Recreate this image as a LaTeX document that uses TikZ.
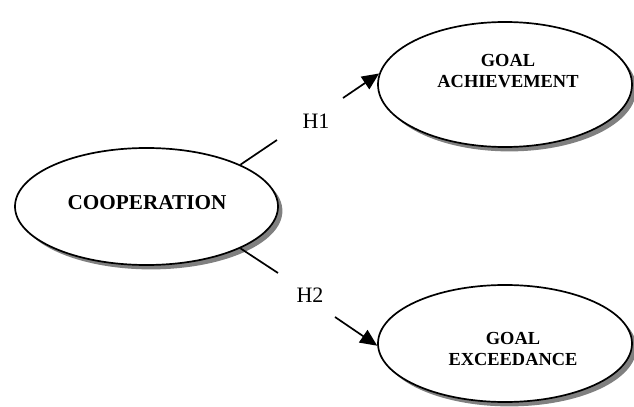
\documentclass[tikz,border=0pt]{standalone}
\usepackage{fontspec}
\setmainfont{Liberation Serif}
\usetikzlibrary{shadows,arrows.meta,shapes.geometric}
\begin{document}
\begin{tikzpicture}[x=0.5pt,y=-0.5pt,
  construct/.style={ellipse,draw=black,line width=0.85pt,fill=white,inner sep=0pt,
    drop shadow={shadow xshift=2.2pt,shadow yshift=-2.2pt,fill=black!50,opacity=1}},
  bigtxt/.style={font=\fontsize{10.6}{12}\selectfont\bfseries,inner sep=0pt},
  smalltxt/.style={font=\fontsize{9.2}{10.5}\selectfont\bfseries,align=center,inner sep=0pt},
  hyp/.style={font=\fontsize{11}{13}\selectfont,inner sep=0pt},
  conn/.style={line width=0.85pt},
  arr/.style={conn,-{Triangle[length=8.5pt,width=7.5pt]}}]
\useasboundingbox (0,0) rectangle (634,407);
\node[construct,minimum width=131.5pt,minimum height=58.5pt] (coop) at (146.5,206.5) {};
\node[construct,minimum width=127pt,minimum height=62.5pt] (ach) at (505,84.5) {};
\node[construct,minimum width=127pt,minimum height=58.5pt] (exc) at (505,343.5) {};
\node[bigtxt] (cooptxt) at (147,203) {COOPERATION};
\node[smalltxt] (achtxt) at (508,71) {GOAL\\ACHIEVEMENT};
\node[smalltxt] (exctxt) at (513,349) {GOAL\\EXCEEDANCE};
\node[hyp] (h1) at (316,121) {H1};
\node[hyp] (h2) at (310,295) {H2};
\coordinate (h1a) at (277,140);
\coordinate (h1b) at (343,98);
\coordinate (h2a) at (278,273);
\coordinate (h2b) at (335,317);
\draw[conn] (coop.24) -- (h1a);
\draw[arr] (h1b) -- (ach.175);
\draw[conn] (coop.-24) -- (h2a);
\draw[arr] (h2b) -- (exc.181);
\end{tikzpicture}
\end{document}
